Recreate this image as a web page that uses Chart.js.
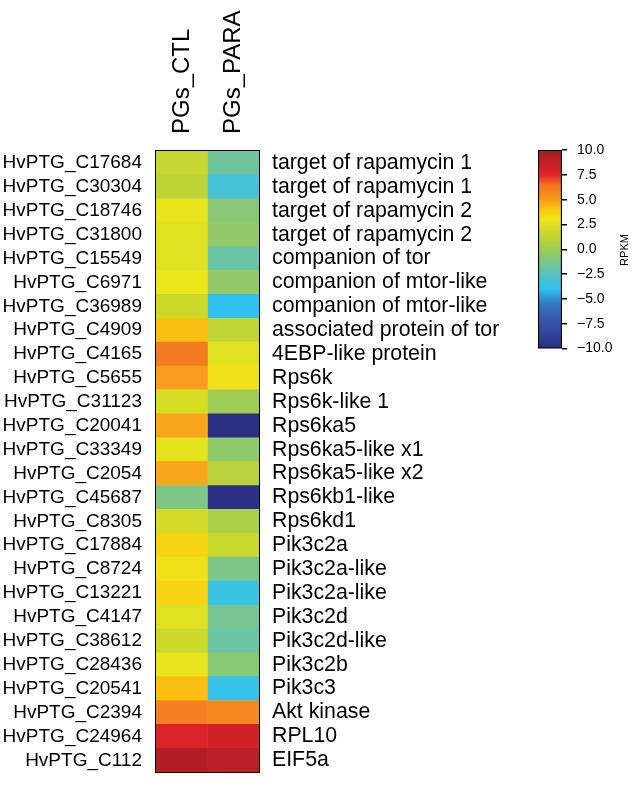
<!DOCTYPE html>
<html>
<head>
<meta charset="utf-8">
<script src="https://cdn.jsdelivr.net/npm/chart.js@4.4.1/dist/chart.umd.min.js"></script>
<style>
  body { margin: 0; background: #fff; }
  #wrap { position: relative; width: 636px; height: 798px; }
  #heat { position: absolute; left: 0; top: 0; }
  #cbar { position: absolute; left: 500px; top: 130px; }
</style>
</head>
<body>
<div id="wrap">
  <canvas id="heat" width="636" height="798"></canvas>
  <canvas id="cbar" width="136" height="237"></canvas>
</div>
<script>
let geneIds = ["HvPTG_C17684", "HvPTG_C30304", "HvPTG_C18746", "HvPTG_C31800", "HvPTG_C15549",
  "HvPTG_C6971", "HvPTG_C36989", "HvPTG_C4909", "HvPTG_C4165", "HvPTG_C5655", "HvPTG_C31123",
  "HvPTG_C20041", "HvPTG_C33349", "HvPTG_C2054", "HvPTG_C45687", "HvPTG_C8305", "HvPTG_C17884",
  "HvPTG_C8724", "HvPTG_C13221", "HvPTG_C4147", "HvPTG_C38612", "HvPTG_C28436", "HvPTG_C20541",
  "HvPTG_C2394", "HvPTG_C24964", "HvPTG_C112"];
let geneNames = ["target of rapamycin 1", "target of rapamycin 1", "target of rapamycin 2",
  "target of rapamycin 2", "companion of tor", "companion of mtor-like", "companion of mtor-like",
  "associated protein of tor", "4EBP-like protein", "Rps6k", "Rps6k-like 1", "Rps6ka5",
  "Rps6ka5-like x1", "Rps6ka5-like x2", "Rps6kb1-like", "Rps6kd1", "Pik3c2a", "Pik3c2a-like",
  "Pik3c2a-like", "Pik3c2d", "Pik3c2d-like", "Pik3c2b", "Pik3c3", "Akt kinase", "RPL10", "EIF5a"];
let columns = ["PGs_CTL", "PGs_PARA"];

// RPKM (log scale)
let ctlValues = [1.5, 1.2, 2.8, 2.5, 2.5, 3.0, 1.8, 4.2, 6.2, 5.0, 2.2, 4.8, 2.7,
  4.8, -1.2, 2.0, 3.6, 3.2, 3.6, 2.5, 1.8, 2.8, 4.2, 6.0, 7.7, 9.3];
let paraValues = [-1.7, -3.2, -0.8, -0.5, -1.9, -0.5, -4.0, 1.3, 2.5, 3.2, 0.0, -10, -0.6,
  1.0, -10, 0.5, 1.7, -1.3, -3.6, -1.5, -1.9, -0.8, -3.8, 5.7, 8.2, 8.9];

let cbMin = -10, cbMax = 10, cbStep = 2.5;

// colour map stops
let stopVals = [-10, -7.5, -5.5, -4, -2.5, -1, 0, 1.5, 3, 4, 5, 6.5, 7.5, 10];
let stopCols = ["#2b2f86", "#3452a4", "#3577c2", "#2ec3f1", "#5ac2bd", "#84c77c", "#9fcc55",
  "#c5d62e", "#ece61a", "#fcc810", "#f89d1c", "#f27222", "#e3242b", "#9e1b20"];

function hexRgb(h) {
  return [parseInt(h.slice(1, 3), 16), parseInt(h.slice(3, 5), 16), parseInt(h.slice(5, 7), 16)];
}
function colorFor(v) {
  v = Math.max(cbMin, Math.min(cbMax, v));
  for (let i = 0; i < stopVals.length - 1; i++) {
    if (v <= stopVals[i + 1]) {
      let t = (v - stopVals[i]) / (stopVals[i + 1] - stopVals[i]);
      let a = hexRgb(stopCols[i]), b = hexRgb(stopCols[i + 1]);
      let c = a.map((x, k) => Math.round(x + (b[k] - x) * t));
      return "rgb(" + c.join(",") + ")";
    }
  }
  return stopCols[stopCols.length - 1];
}

Chart.defaults.font.family = "'Liberation Sans', Arial, sans-serif";
Chart.defaults.color = "#000";

const heatData = {
  labels: [...geneIds],
  datasets: [
    {
      label: columns[0],
      data: ctlValues.map(() => [0, 1]),
      backgroundColor: (c) => colorFor(ctlValues[c.dataIndex]),
      borderWidth: 0,
      barPercentage: 1,
      categoryPercentage: 1,
    },
    {
      label: columns[1],
      data: paraValues.map(() => [1, 2]),
      backgroundColor: (c) => colorFor(paraValues[c.dataIndex]),
      borderWidth: 0,
      barPercentage: 1,
      categoryPercentage: 1,
    },
  ],
};

const heatConfig = {
  type: "bar",
  data: heatData,
  options: {
    indexAxis: "y",
    responsive: false,
    animation: false,
    grouped: false,
    layout: { padding: 0 },
    plugins: { legend: { display: false }, tooltip: { enabled: false } },
    scales: {
      x: {
        type: "linear",
        position: "top",
        min: 0,
        max: 2,
        grid: { display: false },
        border: { display: true, color: "#000", width: 2 },
        afterBuildTicks: (s) => { s.ticks = [{ value: 0.5 }, { value: 1.5 }]; },
        afterFit: (s) => { s.height = 151; },
        ticks: {
          minRotation: 90,
          maxRotation: 90,
          padding: 9,
          labelOffset: 29,
          font: { size: 24 },
          callback: (v) => columns[Math.floor(v)],
        },
      },
      xb: {
        type: "linear",
        position: "bottom",
        min: 0,
        max: 2,
        grid: { display: false },
        ticks: { display: false },
        border: { display: true, color: "#000", width: 2 },
        afterFit: (s) => { s.height = 6; },
      },
      y: {
        type: "category",
        position: "left",
        grid: { display: false },
        border: { display: true, color: "#000", width: 2 },
        afterFit: (s) => { s.width = 156; },
        ticks: { autoSkip: false, padding: 6, font: { size: 19 } },
      },
      yr: {
        type: "category",
        position: "right",
        labels: [...geneNames],
        grid: { display: false, drawTicks: false },
        border: { display: true, color: "#000", width: 2 },
        afterFit: (s) => { s.width = 377; },
        ticks: { autoSkip: false, padding: 13, font: { size: 21.3 } },
      },
    },
  },
};
var heatChart = new Chart(document.getElementById("heat"), heatConfig);

// colour bar
const rpkmTitle = {
  id: "rpkmTitle",
  afterDraw(chart) {
    const ctx = chart.ctx;
    ctx.save();
    ctx.translate(125, 120);
    ctx.rotate(-Math.PI / 2);
    ctx.font = "11px 'Liberation Sans', Arial, sans-serif";
    ctx.fillStyle = "#000";
    ctx.textAlign = "center";
    ctx.textBaseline = "middle";
    ctx.fillText("RPKM", 0, 0);
    ctx.restore();
  },
};

const cbConfig = {
  type: "bar",
  data: {
    labels: ["RPKM"],
    datasets: [
      {
        data: [[cbMin, cbMax]],
        backgroundColor: (c) => {
          const ch = c.chart;
          const y = ch.scales.y;
          if (!ch.chartArea || !y) return "#888";
          const g = ch.ctx.createLinearGradient(0, y.getPixelForValue(cbMin), 0, y.getPixelForValue(cbMax));
          stopVals.forEach((v, i) => g.addColorStop((v - cbMin) / (cbMax - cbMin), stopCols[i]));
          return g;
        },
        borderColor: "#000",
        borderWidth: 1.5,
        borderSkipped: false,
        barPercentage: 1,
        categoryPercentage: 1,
      },
    ],
  },
  options: {
    responsive: false,
    animation: false,
    layout: { padding: { left: 38, top: 20, bottom: 12 } },
    plugins: { legend: { display: false }, tooltip: { enabled: false } },
    scales: {
      x: { display: false },
      y: {
        position: "right",
        min: cbMin,
        max: cbMax,
        grid: { drawOnChartArea: false, drawTicks: true, tickLength: 5, color: "#000", lineWidth: 1.5 },
        border: { display: false },
        afterFit: (s) => { s.width = 74; },
        ticks: {
          stepSize: cbStep,
          padding: 10,
          font: { size: 14 },
          callback: (v) => (v < 0 ? "\u2212" + Math.abs(v).toFixed(1) : v.toFixed(1)),
        },
      },
    },
  },
  plugins: [rpkmTitle],
};
var cbChart = new Chart(document.getElementById("cbar"), cbConfig);
</script>
</body>
</html>
